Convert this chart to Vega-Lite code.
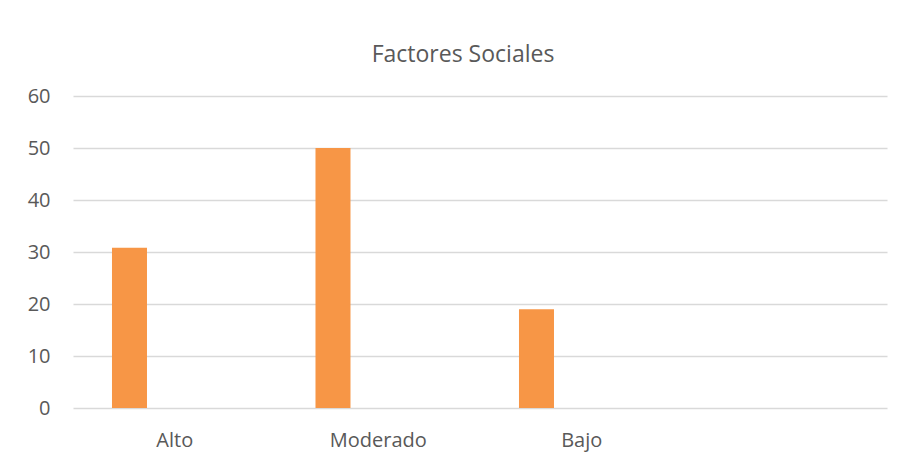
{
  "$schema": "https://vega.github.io/schema/vega-lite/v6.json",
  "width": 814,
  "height": 312,
  "autosize": {"type": "none"},
  "padding": {"left": 73, "top": 96, "right": 17, "bottom": 58},
  "background": "white",
  "title": {
    "text": "Factores Sociales",
    "anchor": "middle",
    "dx": -17,
    "offset": 1.5,
    "baseline": "alphabetic",
    "font": "Open Sans",
    "fontSize": 23,
    "fontWeight": "normal",
    "color": "#595959"
  },
  "data": {
    "values": [
      {"nivel": "Alto", "serie": "Factores Sociales", "porcentaje": 30.8},
      {"nivel": "Moderado", "serie": "Factores Sociales", "porcentaje": 50},
      {"nivel": "Bajo", "serie": "Factores Sociales", "porcentaje": 19}
    ]
  },
  "mark": {"type": "bar", "color": "#F79646"},
  "encoding": {
    "x": {
      "field": "nivel",
      "type": "nominal",
      "sort": null,
      "scale": {"domain": ["Alto", "Moderado", "Bajo", " "], "paddingInner": 0, "paddingOuter": 0},
      "axis": {
        "title": null,
        "domain": false,
        "ticks": false,
        "tickSize": 0,
        "grid": false,
        "labelAngle": 0,
        "labelPadding": 38.4,
        "labelBaseline": "alphabetic",
        "labelFont": "Open Sans",
        "labelFontSize": 20,
        "labelColor": "#595959"
      }
    },
    "xOffset": {
      "field": "serie",
      "type": "nominal",
      "scale": {"domain": ["Factores Sociales", "Serie 2", "Serie 3", "Serie 4"], "paddingInner": 0, "paddingOuter": 0.907, "align": 0.614}
    },
    "y": {
      "field": "porcentaje",
      "type": "quantitative",
      "scale": {"domain": [0, 60], "nice": false},
      "axis": {
        "title": null,
        "values": [0, 10, 20, 30, 40, 50, 60],
        "domain": false,
        "ticks": false,
        "tickSize": 0,
        "labelPadding": 23,
        "labelFont": "Open Sans",
        "labelFontSize": 20,
        "labelColor": "#595959",
        "grid": true,
        "gridColor": "#D9D9D9",
        "gridWidth": 1.5
      }
    }
  },
  "config": {"view": {"stroke": null}}
}
